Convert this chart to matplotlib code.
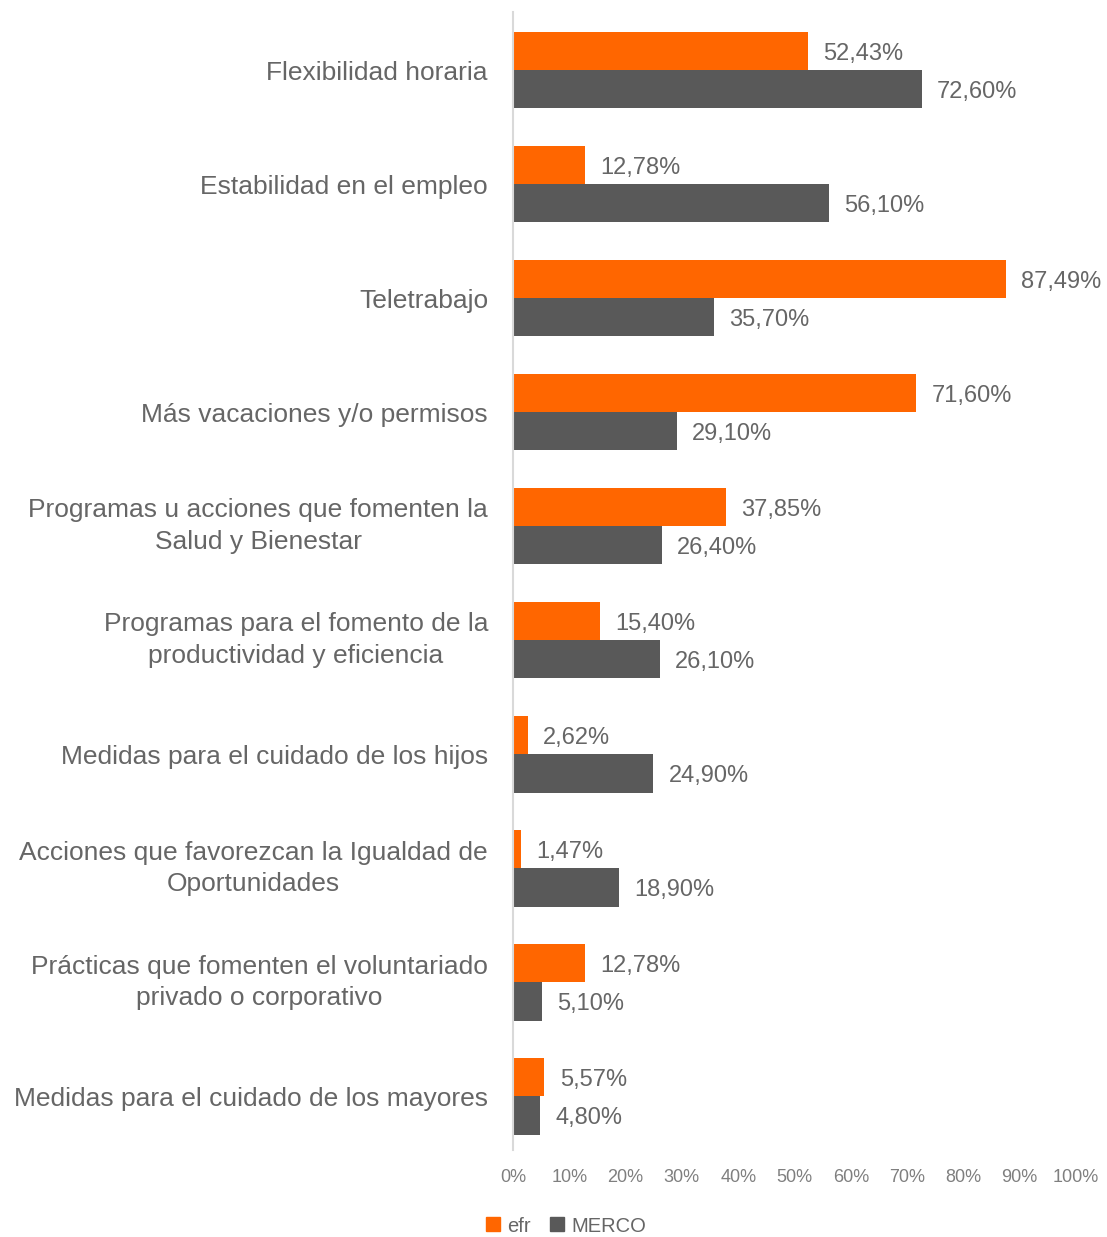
import numpy as np
import matplotlib
matplotlib.use("Agg")
import matplotlib.pyplot as plt
from matplotlib.lines import Line2D

plt.rcParams['font.family'] = ['Liberation Sans', 'DejaVu Sans']

categories = ["Flexibilidad horaria",
              "Estabilidad en el empleo",
              "Teletrabajo",
              "Más vacaciones y/o permisos",
              "Programas u acciones que fomenten la\nSalud y Bienestar",
              "Programas para el fomento de la\nproductividad y eficiencia",
              "Medidas para el cuidado de los hijos",
              "Acciones que favorezcan la Igualdad de\nOportunidades",
              "Prácticas que fomenten el voluntariado\nprivado o corporativo",
              "Medidas para el cuidado de los mayores"]
efr = [52.43, 12.78, 87.49, 71.60, 37.85, 15.40, 2.62, 1.47, 12.78, 5.57]
merco = [72.60, 56.10, 35.70, 29.10, 26.40, 26.10, 24.90, 18.90, 5.10, 4.80]
ticks = [0, 10, 20, 30, 40, 50, 60, 70, 80, 90, 100]

orange = "#FF6600"
grey = "#595959"
txt = "#666666"

fig = plt.figure(figsize=(11.07, 12.37), dpi=100)
ax = fig.add_axes([513/1107, 1 - 1150/1237, (1076 - 513)/1107, (1150 - 12)/1237])

y = np.arange(len(categories))
h = 0.335
ax.barh(y - h/2, efr, height=h, color=orange)
ax.barh(y + h/2, merco, height=h, color=grey)

def fmt(v):
    return ("%.2f" % v).replace(".", ",") + "%"

for i in range(len(categories)):
    ax.annotate(fmt(efr[i]), (efr[i], y[i] - h/2), xytext=(11, -2), textcoords="offset points",
                va="center", ha="left", fontsize=17, color=txt)
    ax.annotate(fmt(merco[i]), (merco[i], y[i] + h/2), xytext=(11, -2), textcoords="offset points",
                va="center", ha="left", fontsize=17, color=txt)

ax.set_xlim(0, 100)
ax.set_ylim(9.47, -0.51)
ax.set_xticks(ticks)
ax.set_xticklabels([str(t) + "%" for t in ticks], fontsize=13, color="#7f7f7f")
ax.set_yticks(y)
ax.set_yticklabels(categories, fontsize=19, color=txt, multialignment="center", linespacing=1.4)
for lab in ax.get_yticklabels():
    if "\n" in lab.get_text():
        lab.set_verticalalignment("center")
ax.tick_params(axis="x", length=0, pad=14)
ax.tick_params(axis="y", length=0, pad=18)

for s in ["top", "right", "bottom"]:
    ax.spines[s].set_visible(False)
ax.spines["left"].set_color("#d9d9d9")
ax.spines["left"].set_linewidth(1.5)

handles = [Line2D([], [], marker="s", linestyle="", markersize=10.5, color=orange),
           Line2D([], [], marker="s", linestyle="", markersize=10.5, color=grey)]
fig.legend(handles, ["efr", "MERCO"], loc="center", bbox_to_anchor=(566/1107, 1 - 1226/1237),
           ncol=2, frameon=False, fontsize=14.5, labelcolor=txt,
           handlelength=0.7, handletextpad=0.35, columnspacing=1.0)

fig.savefig("out.png", dpi=100)
